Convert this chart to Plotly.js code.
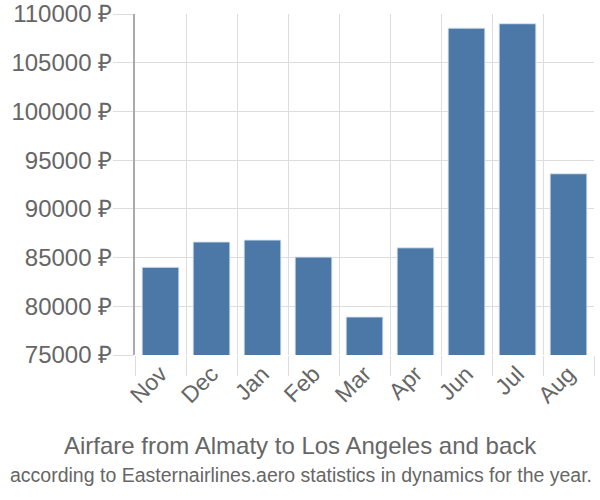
<!DOCTYPE html>
<html><head><meta charset="utf-8">
<script src="https://cdn.plot.ly/plotly-3.0.1.min.js"></script>
<style>body{margin:0;background:#fff}#chart{width:600px;height:500px}</style>
</head><body><div id="chart"></div>
<script>
const months = ["Nov","Dec","Jan","Feb","Mar","Apr","Jun","Jul","Aug"];
const prices = [84000, 86600, 86800, 85050, 78900, 86000, 108550, 109000, 93600];
const yTicks = [75000, 80000, 85000, 90000, 95000, 100000, 105000, 110000];
const yTickText = yTicks.map(v => v + " ₽");
const titleText = "Airfare from Almaty to Los Angeles and back";
const subtitleText = "according to Easternairlines.aero statistics in dynamics for the year.";

const gray = "#666666";
const fam = "Liberation Sans, Arial, sans-serif";
Plotly.newPlot("chart", [{
  type: "bar",
  x: months,
  y: prices,
  marker: {color: "#4C78A8", line: {color: "rgba(220,230,240,0.9)", width: 1}},
  hoverinfo: "none"
}], {
  width: 600, height: 500,
  margin: {l: 135, r: 6, t: 14, b: 145},
  paper_bgcolor: "#fff", plot_bgcolor: "#fff",
  bargap: 0.28,
  showlegend: false,
  font: {family: fam, color: gray},
  xaxis: {
    type: "category",
    tickson: "boundaries",
    ticks: "outside", ticklen: 20, tickcolor: "#dddddd", tickwidth: 1,
    showgrid: true, gridcolor: "#dddddd", gridwidth: 1,
    tickangle: -45,
    tickfont: {size: 23, color: gray},
    showline: false, zeroline: false,
    fixedrange: true
  },
  yaxis: {
    range: [75000, 110000],
    tickvals: yTicks,
    ticktext: yTickText,
    ticks: "outside", ticklen: 20, tickcolor: "#dddddd", tickwidth: 1,
    ticklabelstandoff: -4,
    showgrid: true, gridcolor: "#dddddd", gridwidth: 1,
    showline: true, linecolor: "#aaaaaa", linewidth: 2,
    zeroline: false,
    tickfont: {size: 24, color: gray},
    fixedrange: true
  },
  annotations: [
    {text: titleText, xref: "paper", yref: "paper", x: 0.5, xanchor: "center",
     xshift: -64, y: 0, yshift: -90, yanchor: "middle", showarrow: false,
     font: {size: 24, color: gray, family: fam}},
    {text: subtitleText, xref: "paper", yref: "paper", x: 0.5, xanchor: "center",
     xshift: -64, y: 0, yshift: -120, yanchor: "middle", showarrow: false,
     font: {size: 19.5, color: gray, family: fam}}
  ]
}, {staticPlot: true, displayModeBar: false});
</script>
</body></html>
